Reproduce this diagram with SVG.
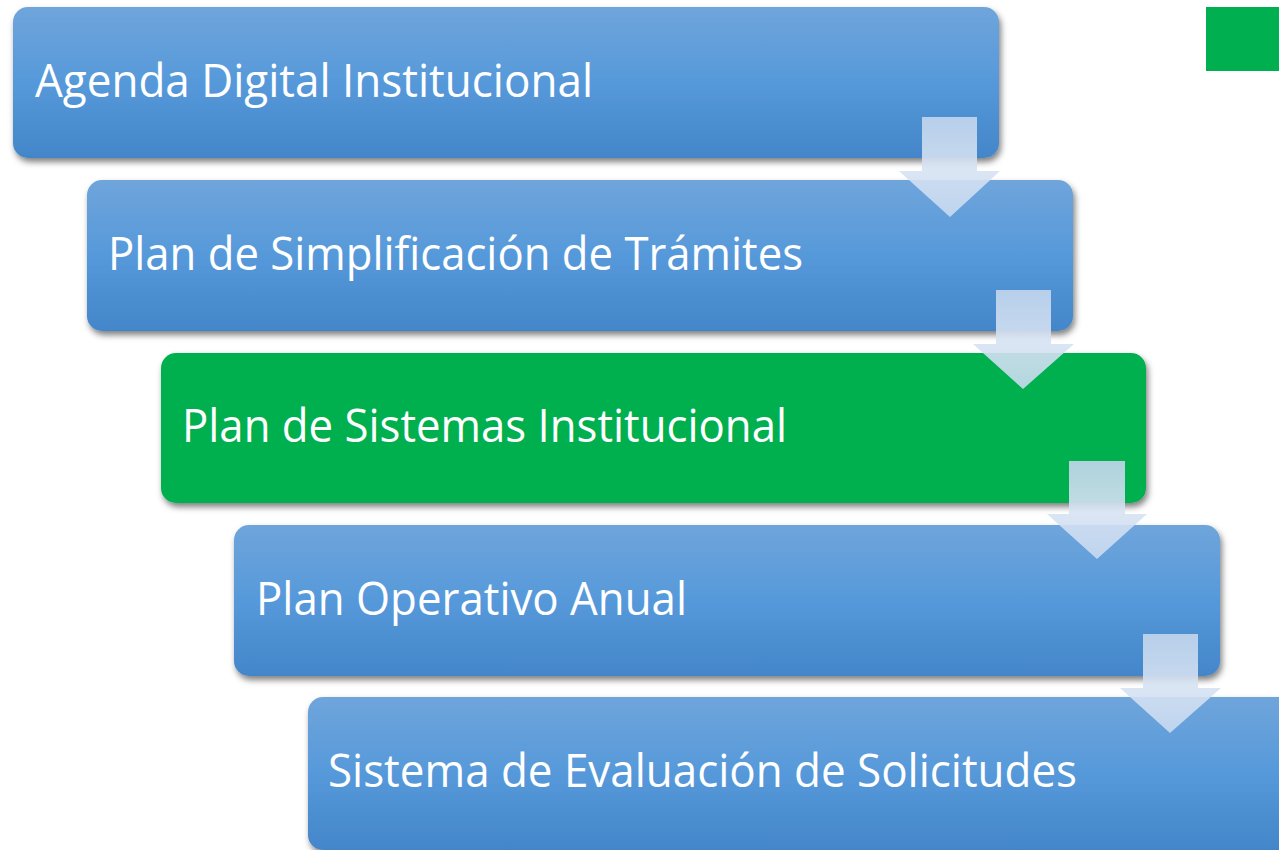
<svg xmlns="http://www.w3.org/2000/svg" width="1279" height="850" viewBox="0 0 1279 850">
  <defs>
    <linearGradient id="blueGrad" x1="0" y1="0" x2="0" y2="1">
      <stop offset="0" stop-color="#6fa5db"/>
      <stop offset="0.5" stop-color="#5699da"/>
      <stop offset="1" stop-color="#4386c9"/>
    </linearGradient>
    <linearGradient id="arrowGrad" x1="0" y1="0" x2="0" y2="1">
      <stop offset="0" stop-color="#c3d6ed"/>
      <stop offset="0.53" stop-color="#d7e3f3"/>
      <stop offset="1" stop-color="#c8daf0"/>
    </linearGradient>
    <filter id="shadow" x="-5%" y="-10%" width="110%" height="125%">
      <feDropShadow dx="2" dy="4" stdDeviation="3" flood-color="#000000" flood-opacity="0.5"/>
    </filter>
  </defs>
  <style>
    .box { fill: url(#blueGrad); filter: url(#shadow); }
    .boxGreen { fill: #00b050; filter: url(#shadow); }
    .label { font-family: "Open Sans", "Liberation Sans", sans-serif; font-size: 45px; fill: #ffffff; }
    .arrow { fill: url(#arrowGrad); fill-opacity: 0.9; }
  </style>
  <rect width="1279" height="850" fill="#ffffff"/>

  <g id="node-agenda">
    <rect class="box" x="13" y="7" width="986" height="151" rx="15" ry="15"/>
    <text class="label" x="35" y="97" textLength="558" lengthAdjust="spacingAndGlyphs">Agenda Digital Institucional</text>
  </g>
  <g id="node-simplificacion">
    <rect class="box" x="87" y="180" width="986" height="151" rx="15" ry="15"/>
    <text class="label" x="108" y="270" textLength="695" lengthAdjust="spacingAndGlyphs">Plan de Simplificación de Trámites</text>
  </g>
  <g id="node-sistemas">
    <rect class="boxGreen" x="161" y="353" width="985" height="150" rx="15" ry="15"/>
    <text class="label" x="182" y="442" textLength="605" lengthAdjust="spacingAndGlyphs">Plan de Sistemas Institucional</text>
  </g>
  <g id="node-poa">
    <rect class="box" x="234" y="525" width="986" height="151" rx="15" ry="15"/>
    <text class="label" x="256" y="615" textLength="431" lengthAdjust="spacingAndGlyphs">Plan Operativo Anual</text>
  </g>
  <g id="node-evaluacion">
    <rect class="box" x="308" y="697" width="986" height="153" rx="15" ry="15"/>
    <text class="label" x="328" y="787" textLength="749" lengthAdjust="spacingAndGlyphs">Sistema de Evaluación de Solicitudes</text>
  </g>

  <g id="connectors">
    <polygon class="arrow" points="922,117 977,117 977,171 1000,171 950,217 899,171 922,171"/>
    <polygon class="arrow" points="996,290 1051,290 1051,344 1074,344 1023,389 973,344 996,344"/>
    <polygon class="arrow" points="1069,461 1125,461 1125,514 1147,514 1097,559 1047,514 1069,514"/>
    <polygon class="arrow" points="1143,634 1198,634 1198,688 1221,688 1170,733 1120,688 1143,688"/>
  </g>

  <g id="legend-square">
    <rect x="1206" y="7" width="73" height="64" fill="#00b050"/>
  </g>
</svg>
